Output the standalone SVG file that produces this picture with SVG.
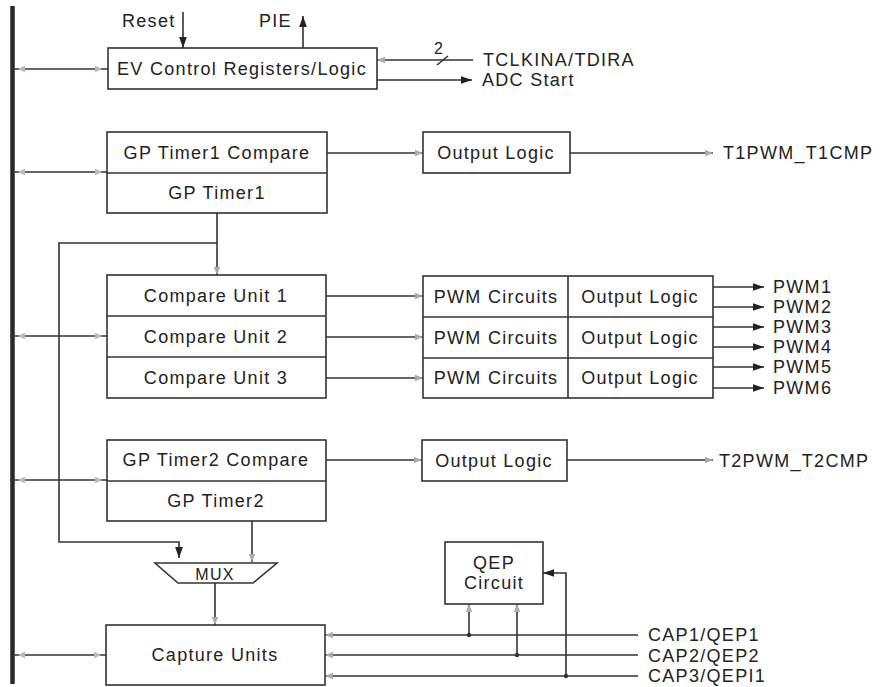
<svg xmlns="http://www.w3.org/2000/svg" xmlns:xlink="http://www.w3.org/1999/xlink" width="880" height="687" viewBox="0 0 880 687">
<defs>
<style>
.box{fill:#fff;stroke:#333;stroke-width:1.6}
.ln{fill:none;stroke:#333;stroke-width:1.6}
.bus{fill:none;stroke:#2a2a2a;stroke-width:4.5}
.t{font-family:"Liberation Sans",Arial,sans-serif;font-size:18px;letter-spacing:1.3px;fill:#222}
.c{text-anchor:middle}
.s{font-size:16px;letter-spacing:0}
</style>
<marker id="ah" viewBox="0 0 10 10" refX="10" refY="5" markerWidth="11" markerHeight="11" markerUnits="userSpaceOnUse" orient="auto"><path d="M0,1.5 L10,5 L0,8.5 z" fill="#222"/></marker>
<marker id="fa" viewBox="0 0 10 10" refX="10" refY="5" markerWidth="8" markerHeight="8" markerUnits="userSpaceOnUse" orient="auto"><path d="M0,1 L10,5 L0,9 z" fill="#aaa"/></marker>
<path id="fl" d="M0,0 l7,-3.5 v7 z" fill="#bbb"/>
<path id="fr" d="M0,0 l-7,-3.5 v7 z" fill="#bbb"/>
</defs>
<rect width="880" height="687" fill="#fff"/>

<g id="connectors">
<line class="bus" x1="12.5" y1="6" x2="12.5" y2="684"/>
<line class="ln" x1="12" y1="69" x2="108" y2="69"/>
<line class="ln" x1="12" y1="172" x2="107" y2="172"/>
<line class="ln" x1="12" y1="336" x2="107" y2="336"/>
<line class="ln" x1="12" y1="480" x2="107" y2="480"/>
<line class="ln" x1="12" y1="655" x2="106" y2="655"/>
<use xlink:href="#fl" x="18" y="69"/><use xlink:href="#fr" x="102" y="69"/>
<use xlink:href="#fl" x="18" y="172"/><use xlink:href="#fr" x="102" y="172"/>
<use xlink:href="#fl" x="18" y="336"/><use xlink:href="#fr" x="102" y="336"/>
<use xlink:href="#fl" x="18" y="480"/><use xlink:href="#fr" x="102" y="480"/>
<use xlink:href="#fl" x="18" y="655"/><use xlink:href="#fr" x="101" y="655"/>
<line class="ln" x1="183" y1="12" x2="183" y2="48" marker-end="url(#ah)"/>
<line class="ln" x1="303" y1="48" x2="303" y2="16" marker-end="url(#ah)"/>
<line class="ln" x1="473" y1="60" x2="377" y2="60" marker-end="url(#fa)"/>
<line class="ln" x1="437" y1="65" x2="448" y2="56"/>
<line class="ln" x1="377" y1="80" x2="472" y2="80" marker-end="url(#ah)"/>
<line class="ln" x1="327" y1="153" x2="423" y2="153" marker-end="url(#fa)"/>
<line class="ln" x1="570" y1="153" x2="713" y2="153" marker-end="url(#fa)"/>
<line class="ln" x1="217" y1="213" x2="217" y2="275" marker-end="url(#fa)"/>
<polyline class="ln" points="217,243 59,243 59,542 179,542 179,558" marker-end="url(#ah)"/>
<line class="ln" x1="326" y1="296" x2="423" y2="296" marker-end="url(#fa)"/>
<line class="ln" x1="326" y1="337" x2="423" y2="337" marker-end="url(#fa)"/>
<line class="ln" x1="326" y1="378" x2="423" y2="378" marker-end="url(#fa)"/>
<line class="ln" x1="713" y1="287" x2="764" y2="287" marker-end="url(#ah)"/>
<line class="ln" x1="713" y1="307" x2="764" y2="307" marker-end="url(#ah)"/>
<line class="ln" x1="713" y1="327" x2="764" y2="327" marker-end="url(#ah)"/>
<line class="ln" x1="713" y1="347" x2="764" y2="347" marker-end="url(#ah)"/>
<line class="ln" x1="713" y1="367" x2="764" y2="367" marker-end="url(#ah)"/>
<line class="ln" x1="713" y1="388" x2="764" y2="388" marker-end="url(#ah)"/>
<line class="ln" x1="326" y1="460" x2="422" y2="460" marker-end="url(#fa)"/>
<line class="ln" x1="567" y1="460" x2="713" y2="460" marker-end="url(#fa)"/>
<line class="ln" x1="252" y1="521" x2="252" y2="562" marker-end="url(#fa)"/>
<line class="ln" x1="215" y1="583" x2="215" y2="625" marker-end="url(#fa)"/>
<line class="ln" x1="638" y1="635" x2="325" y2="635" marker-end="url(#fa)"/>
<line class="ln" x1="638" y1="655" x2="325" y2="655" marker-end="url(#fa)"/>
<line class="ln" x1="638" y1="676" x2="325" y2="676" marker-end="url(#fa)"/>
<line class="ln" x1="469" y1="635" x2="469" y2="604" marker-end="url(#fa)"/>
<line class="ln" x1="517" y1="655" x2="517" y2="604" marker-end="url(#fa)"/>
<polyline class="ln" points="566,676 566,573 543,573" marker-end="url(#ah)"/>
<circle cx="469" cy="635" r="2.2" fill="#333"/>
<circle cx="517" cy="655" r="2.2" fill="#333"/>
<circle cx="566" cy="676" r="2.2" fill="#333"/>
</g>

<g id="ev">
<rect class="box" x="108" y="48" width="269" height="41"/>
<text class="t c" x="242" y="75">EV Control Registers/Logic</text>
</g>
<g id="labels-top">
<text class="t" x="122" y="27">Reset</text>
<text class="t" x="259" y="27">PIE</text>
<text class="t s" x="434" y="54">2</text>
<text class="t" x="483" y="66">TCLKINA/TDIRA</text>
<text class="t" x="482" y="86">ADC Start</text>
</g>
<g id="gptimer1">
<rect class="box" x="107" y="132" width="220" height="81"/>
<line class="ln" x1="107" y1="173" x2="327" y2="173"/>
<text class="t c" x="217" y="159">GP Timer1 Compare</text>
<text class="t c" x="217" y="199">GP Timer1</text>
</g>
<g id="outlogic1">
<rect class="box" x="423" y="132" width="147" height="41"/>
<text class="t c" x="496" y="159">Output Logic</text>
</g>
<text class="t" x="723" y="159">T1PWM_T1CMP</text>
<g id="compare-units">
<rect class="box" x="107" y="275" width="219" height="123"/>
<line class="ln" x1="107" y1="316" x2="326" y2="316"/>
<line class="ln" x1="107" y1="357" x2="326" y2="357"/>
<text class="t c" x="216" y="302">Compare Unit 1</text>
<text class="t c" x="216" y="343">Compare Unit 2</text>
<text class="t c" x="216" y="384">Compare Unit 3</text>
</g>
<g id="pwm">
<rect class="box" x="423" y="276" width="290" height="122"/>
<line class="ln" x1="568" y1="276" x2="568" y2="398"/>
<line class="ln" x1="423" y1="317" x2="713" y2="317"/>
<line class="ln" x1="423" y1="358" x2="713" y2="358"/>
<text class="t c" x="496" y="303">PWM Circuits</text>
<text class="t c" x="496" y="344">PWM Circuits</text>
<text class="t c" x="496" y="384">PWM Circuits</text>
<text class="t c" x="640" y="303">Output Logic</text>
<text class="t c" x="640" y="344">Output Logic</text>
<text class="t c" x="640" y="384">Output Logic</text>
</g>
<g id="pwm-labels">
<text class="t" x="773" y="293">PWM1</text>
<text class="t" x="773" y="313">PWM2</text>
<text class="t" x="773" y="333">PWM3</text>
<text class="t" x="773" y="353">PWM4</text>
<text class="t" x="773" y="373">PWM5</text>
<text class="t" x="773" y="394">PWM6</text>
</g>
<g id="gptimer2">
<rect class="box" x="107" y="440" width="219" height="81"/>
<line class="ln" x1="107" y1="481" x2="326" y2="481"/>
<text class="t c" x="216" y="466">GP Timer2 Compare</text>
<text class="t c" x="216" y="507">GP Timer2</text>
</g>
<g id="outlogic2">
<rect class="box" x="422" y="440" width="145" height="41"/>
<text class="t c" x="494" y="467">Output Logic</text>
</g>
<text class="t" x="719" y="467">T2PWM_T2CMP</text>
<g id="mux">
<path class="box" d="M155,563 L277,563 L253,583 L178,583 z"/>
<text class="t c" x="215" y="580" style="font-size:16px">MUX</text>
</g>
<g id="qep">
<rect class="box" x="445" y="542" width="98" height="62"/>
<text class="t c" x="494" y="569">QEP</text>
<text class="t c" x="494" y="589">Circuit</text>
</g>
<g id="capture">
<rect class="box" x="106" y="625" width="219" height="60"/>
<text class="t c" x="215" y="661">Capture Units</text>
</g>
<g id="cap-labels">
<text class="t" x="648" y="641">CAP1/QEP1</text>
<text class="t" x="648" y="662">CAP2/QEP2</text>
<text class="t" x="648" y="682">CAP3/QEPI1</text>
</g>
</svg>
